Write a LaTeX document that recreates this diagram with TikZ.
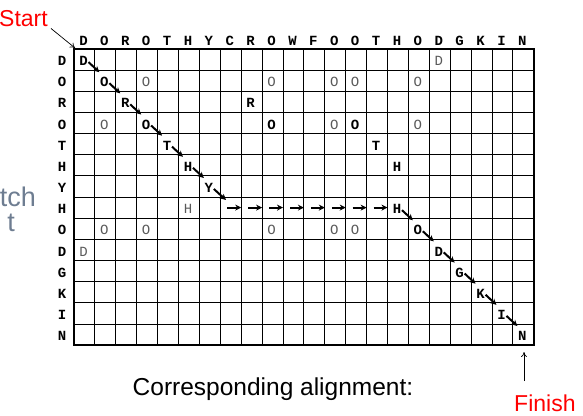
\documentclass[tikz,border=0pt]{standalone}
\usepackage{fontspec}
\setmainfont{Liberation Sans}
\newfontfamily\monofnt{Liberation Mono}
\usetikzlibrary{arrows.meta}
\definecolor{redtxt}{RGB}{255,0,0}
\definecolor{ghost}{RGB}{110,125,145}
\definecolor{graytxt}{RGB}{90,90,90}
\begin{document}
\begin{tikzpicture}[x=1pt,y=-1pt,
  hdr/.style={font=\monofnt\bfseries\fontsize{14}{14}\selectfont, inner sep=0pt},
  pathltr/.style={font=\monofnt\bfseries\fontsize{14}{14}\selectfont, inner sep=0pt},
  boldltr/.style={font=\monofnt\bfseries\fontsize{14}{14}\selectfont, inner sep=0pt},
  grayltr/.style={font=\monofnt\fontsize{14}{14}\selectfont, text=graytxt, inner sep=0pt},
  patharrow/.style={-{Stealth[length=6pt,width=6pt]}, line width=2pt},
  thinarrow/.style={-{To[length=5pt,width=6pt]}, line width=0.7pt},
  gridline/.style={line width=0.9pt},
  border/.style={line width=1.6pt},
  redlabel/.style={text=redtxt, font=\fontsize{23}{23}\selectfont, inner sep=0pt},
  ghostlabel/.style={text=ghost, font=\fontsize{27}{27}\selectfont, inner sep=0pt},
]
\useasboundingbox (0,0) rectangle (583,415);

% grid
\foreach \j in {1,...,21} \draw[gridline] ({74+\j*20.9},49) -- ({74+\j*20.9},345.1);
\foreach \i in {1,...,13} \draw[gridline] (74,{49+\i*21.15}) -- (533.8,{49+\i*21.15});
\draw[border] (74,49) rectangle (533.8,345.1);

% column headers
\foreach \l [count=\j] in {D,O,R,O,T,H,Y,C,R,O,W,F,O,O,T,H,O,D,G,K,I,N}
  \node[hdr] (col\j) at ({74+(\j-0.5)*20.9-1},41) {\l};
% row headers
\foreach \l [count=\i] in {D,O,R,O,T,H,Y,H,O,D,G,K,I,N}
  \node[hdr] (row\i) at (62,{49+(\i-0.5)*21.15+1.5}) {\l};

% path letters
\foreach \r/\c/\l/\n in {1/1/D/p1,2/2/O/p2,3/3/R/p3,4/4/O/p4,5/5/T/p5,6/6/H/p6,7/7/Y/p7,
  8/16/H/p8,9/17/O/p9,10/18/D/p10,11/19/G/p11,12/20/K/p12,13/21/I/p13,14/22/N/p14}
  \node[pathltr] (\n) at ({74+(\c-0.5)*20.9-1},{49+(\r-0.5)*21.15+1.5}) {\l};

% other bold matches
\foreach \r/\c/\l/\n in {3/9/R/b1,4/10/O/b2,4/14/O/b3,5/15/T/b4,6/16/H/b5}
  \node[boldltr] (\n) at ({74+(\c-0.5)*20.9-1},{49+(\r-0.5)*21.15+1.5}) {\l};

% gray matches
\foreach \r/\c/\l/\n in {1/18/D/g1,2/4/O/g2,2/10/O/g3,2/13/O/g4,2/14/O/g5,2/17/O/g6,
  4/2/O/g7,4/13/O/g8,4/17/O/g9,8/6/H/g10,9/2/O/g11,9/4/O/g12,9/10/O/g13,9/13/O/g14,
  9/14/O/g15,10/1/D/g16}
  \node[grayltr] (\n) at ({74+(\c-0.5)*20.9-1},{49+(\r-0.5)*21.15+1.5}) {\l};

% diagonal path arrows
\foreach \a/\b in {p1/p2,p2/p3,p3/p4,p4/p5,p5/p6,p6/p7,p8/p9,p9/p10,p10/p11,p11/p12,p12/p13,p13/p14}
  \draw[patharrow] ([shift={(5,1)}]\a.center) -- ([shift={(-5,-10)}]\b.center);

% Y to horizontal run
\coordinate (yend) at (226,200);
\draw[patharrow] ([shift={(5,1)}]p7.center) -- (yend);
\foreach \j in {8,...,15} {
  \coordinate (ha\j) at ({74+(\j-1)*20.9+7},207.6);
  \coordinate (hb\j) at ({74+\j*20.9},207.6);
  \draw[patharrow] (ha\j) -- (hb\j);
}

% Start / Finish
\node[redlabel, anchor=base west] (start) at (-1,26) {Start};
\coordinate (gridcorner) at (75,48);
\draw[thinarrow] ([shift={(3,2)}]start.south east) -- (gridcorner);

\node[redlabel, anchor=base west] (finish) at (514,411) {Finish};
\coordinate (finishtail) at (524,381);
\coordinate (finishtip) at (524,352);
\draw[thinarrow] (finishtail) -- (finishtip);

% caption
\node[font=\fontsize{24.5}{24.5}\selectfont, anchor=base, inner sep=0pt] (caption) at (273,395.5) {Corresponding alignment:};

% ghost text from behind
\node[ghostlabel, anchor=base east] (ghost1) at (36,206.5) {tch};
\node[ghostlabel, anchor=base east] (ghost2) at (15,231.5) {t};
\end{tikzpicture}
\end{document}
